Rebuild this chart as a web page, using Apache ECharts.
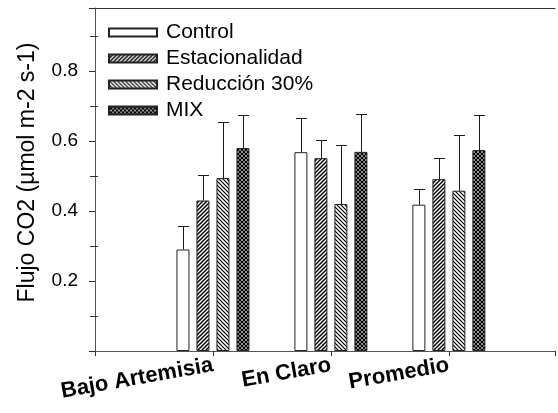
<!DOCTYPE html>
<html>
<head>
<meta charset="utf-8">
<script src="https://cdn.jsdelivr.net/npm/echarts@6/dist/echarts.min.js"></script>
<style>html,body{margin:0;padding:0;background:#fff;}#c{width:558px;height:413px;}</style>
</head>
<body>
<div id="c"></div>
<script>
// ---- data ----
var categories = ['Bajo Artemisia', 'En Claro', 'Promedio'];
var seriesNames = ['Control', 'Estacionalidad', 'Reducción 30%', 'MIX'];
var controlVals = [0.290, 0.568, 0.418];
var controlErr  = [0.068, 0.099, 0.045];
var estacVals   = [0.430, 0.551, 0.491];
var estacErr    = [0.072, 0.052, 0.060];
var reducVals   = [0.494, 0.420, 0.458];
var reducErr    = [0.161, 0.169, 0.160];
var mixVals     = [0.580, 0.569, 0.574];
var mixErr      = [0.095, 0.108, 0.099];
var yTicks = [0.2, 0.4, 0.6, 0.8];

var allVals = [controlVals, estacVals, reducVals, mixVals];
var allErr = [controlErr, estacErr, reducErr, mixErr];

// ---- patterns ----
function tile(size, draw) {
  var c = document.createElement('canvas');
  c.width = size; c.height = size;
  var ctx = c.getContext('2d');
  ctx.fillStyle = '#fff';
  ctx.fillRect(0, 0, size, size);
  ctx.strokeStyle = '#000';
  draw(ctx, size);
  return { image: c, repeat: 'repeat' };
}
function line(ctx, a, b, c2, d) { ctx.beginPath(); ctx.moveTo(a, b); ctx.lineTo(c2, d); ctx.stroke(); }
var patSlash = tile(4, function (ctx, s) {
  ctx.lineWidth = 1.5;
  line(ctx, -1, s + 1, s + 1, -1);
  line(ctx, -1, 1, 1, -1);
  line(ctx, s - 1, s + 1, s + 1, s - 1);
});
var patBack = tile(4, function (ctx, s) {
  ctx.lineWidth = 1.2;
  line(ctx, -1, -1, s + 1, s + 1);
  line(ctx, s - 1, -1, s + 1, 1);
  line(ctx, -1, s - 1, 1, s + 1);
});
var patCross = tile(4, function (ctx, s) {
  ctx.lineWidth = 1.3;
  line(ctx, -1, s + 1, s + 1, -1);
  line(ctx, -1, 1, 1, -1);
  line(ctx, s - 1, s + 1, s + 1, s - 1);
  line(ctx, -1, -1, s + 1, s + 1);
  line(ctx, s - 1, -1, s + 1, 1);
  line(ctx, -1, s - 1, 1, s + 1);
});
var fills = ['#ffffff', patSlash, patBack, patCross];

var FONT = 'Liberation Sans, Arial, sans-serif';
var BAR_W = 13, PITCH = 20;

var series = [];
allVals.forEach(function (vals, j) {
  series.push({
    type: 'bar',
    name: seriesNames[j],
    xAxisIndex: 0, yAxisIndex: 0,
    barWidth: BAR_W,
    barGap: ((PITCH - BAR_W) / BAR_W * 100).toFixed(2) + '%',
    itemStyle: { color: fills[j], borderColor: '#222', borderWidth: 1 },
    data: vals.map(function (v, i) { return [i + 1, v]; })
  });
});
allVals.forEach(function (vals, j) {
  var off = (j - 1.5) * PITCH;
  series.push({
    type: 'custom',
    name: seriesNames[j] + ' err',
    xAxisIndex: 0, yAxisIndex: 0,
    z: 5,
    silent: true,
    renderItem: function (params, api) {
      var p0 = api.coord([api.value(0), api.value(1)]);
      var p1 = api.coord([api.value(0), api.value(2)]);
      var x = Math.round(p0[0] + off) + 0.5;
      var yc = Math.round(p1[1]) + 0.5;
      var style = { stroke: '#1a1a1a', lineWidth: 1 };
      return {
        type: 'group',
        children: [
          { type: 'line', shape: { x1: x, y1: p0[1], x2: x, y2: yc }, style: style },
          { type: 'line', shape: { x1: x - 5.5, y1: yc, x2: x + 5.5, y2: yc }, style: style }
        ]
      };
    },
    data: vals.map(function (v, i) { return [i + 1, v, v + allErr[j][i]]; })
  });
});

var chart = echarts.init(document.getElementById('c'), null, { renderer: 'canvas' });
chart.setOption({
  animation: false,
  backgroundColor: '#fff',
  grid: { left: 95, top: 8, right: 0, bottom: 62, containLabel: false },
  legend: {
    orient: 'vertical',
    left: 103, top: 17,
    itemWidth: 48, itemHeight: 8,
    itemGap: 5,
    selectedMode: false,
    icon: 'rect',
    textStyle: { fontFamily: FONT, fontSize: 21, color: '#000', lineHeight: 20, padding: [0, 0, 0, 4] },
    data: seriesNames
  },
  xAxis: [{
    type: 'value', min: 0, max: 3.9, interval: 1,
    position: 'bottom',
    splitLine: { show: false },
    axisLine: { show: true, onZero: false, lineStyle: { color: '#555', width: 1 } },
    axisTick: { show: true, length: 5, lineStyle: { color: '#333' } },
    axisLabel: {
      rotate: 10, margin: 14, fontFamily: FONT, fontSize: 22, fontWeight: 'bold', color: '#000',
      formatter: function (v) { return categories[Math.round(v) - 1] || ''; }
    }
  }, {
    type: 'value', min: 0, max: 3.9, position: 'top',
    splitLine: { show: false }, axisTick: { show: false }, axisLabel: { show: false },
    axisLine: { show: true, onZero: false, lineStyle: { color: '#333', width: 1 } }
  }],
  yAxis: [{
    type: 'value', min: 0, max: 0.98, interval: 0.2,
    name: 'Flujo CO2 (µmol m-2 s-1)',
    nameLocation: 'middle', nameGap: 56, nameRotate: 90,
    nameTextStyle: { fontFamily: FONT, fontSize: 23, color: '#000', padding: [0, 0, 0, 14] },
    splitLine: { show: false },
    axisLine: { show: true, lineStyle: { color: '#555', width: 1 } },
    axisTick: { show: true, length: 6, lineStyle: { color: '#333' } },
    minorTick: { show: true, splitNumber: 2, length: 5, lineStyle: { color: '#333' } },
    axisLabel: {
      margin: 17, fontFamily: FONT, fontSize: 19, color: '#000',
      formatter: function (v) {
        for (var k = 0; k < yTicks.length; k++) { if (Math.abs(v - yTicks[k]) < 1e-6) return yTicks[k].toFixed(1); }
        return '';
      }
    }
  }, {
    type: 'value', min: 0, max: 0.98, interval: 0.2, position: 'left',
    splitLine: { show: false }, axisLabel: { show: false }, axisLine: { show: false },
    axisTick: { show: false, inside: true },
    minorTick: { show: true, splitNumber: 2, length: 3, lineStyle: { color: '#333' } }
  }],
  series: series
});
</script>
</body>
</html>
